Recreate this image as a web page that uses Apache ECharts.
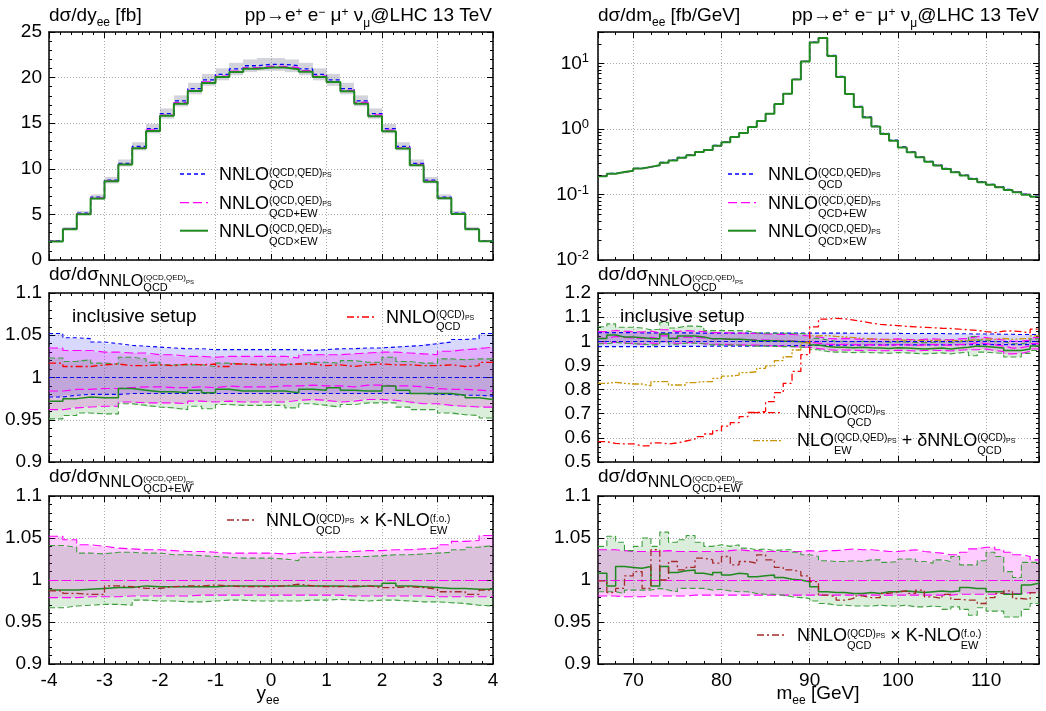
<!DOCTYPE html>
<html><head><meta charset="utf-8">
<script src="https://cdn.jsdelivr.net/npm/echarts@6/dist/echarts.min.js"></script>
<style>html,body{margin:0;padding:0;background:#fff}#c{width:1046px;height:711px}</style>
</head><body><div id="c"></div>
<script>
// ---------------- data ----------------
const yEdges = [-4,-3.75,-3.5,-3.25,-3,-2.75,-2.5,-2.25,-2,-1.75,-1.5,-1.25,-1,-0.75,-0.5,-0.25,0,
  0.25,0.5,0.75,1,1.25,1.5,1.75,2,2.25,2.5,2.75,3,3.25,3.5,3.75,4];
const mEdges = [66,67,68,69,70,71,72,73,74,75,76,77,78,79,80,81,82,83,84,85,86,87,88,89,90,91,
  92,93,94,95,96,97,98,99,100,101,102,103,104,105,106,107,108,109,110,111,112,113,114,115,116];
const logMinorTicks = [0.02,0.03,0.04,0.05,0.06,0.07,0.08,0.09,0.2,0.3,0.4,0.5,0.6,0.7,0.8,0.9,2,3,4,5,6,7,8,9,20];

// top-left: dsigma/dy_ee [fb]
const topL_qcd = [2.10,3.45,5.15,6.90,8.75,10.60,12.45,14.40,16.05,17.45,18.80,19.75,20.35,20.95,21.30,21.45,
  21.45,21.30,20.95,20.35,19.75,18.80,17.45,16.05,14.40,12.45,10.60,8.75,6.90,5.15,3.45,2.10];
const topL_ew = [2.08,3.41,5.09,6.82,8.66,10.49,12.33,14.26,15.87,17.26,18.60,19.54,20.15,20.72,21.08,21.22,
  21.24,21.08,20.75,20.15,19.55,18.60,17.28,15.90,14.25,12.32,10.48,8.64,6.81,5.08,3.41,2.08];
const topL_x = [2.04,3.36,5.03,6.73,8.63,10.46,12.25,14.15,15.82,17.14,18.52,19.40,20.06,20.61,20.96,21.11,
  21.11,20.92,20.65,20.06,19.51,18.51,17.14,15.76,14.13,12.22,10.40,8.58,6.76,5.04,3.37,2.05];
const topL_hi = [2.20,3.62,5.38,7.19,9.10,11.02,12.92,14.92,16.62,18.05,19.43,20.40,21.02,21.62,21.99,22.15,
  22.15,21.99,21.62,21.02,20.40,19.43,18.05,16.62,14.92,12.92,11.02,9.10,7.19,5.38,3.62,2.20];
const topL_lo = [2.00,3.30,4.93,6.60,8.40,10.25,12.03,13.88,15.50,16.85,18.17,19.10,19.70,20.26,20.60,20.74,
  20.74,20.60,20.26,19.70,19.10,18.17,16.85,15.50,13.88,12.03,10.25,8.40,6.60,4.93,3.30,2.00];

// middle-left: ratio to NNLO QCD
const midL_blueU = [1.052,1.047,1.046,1.042,1.040,1.038,1.037,1.036,1.035,1.034,1.034,1.033,1.033,1.033,1.033,1.033,
  1.033,1.033,1.032,1.033,1.034,1.034,1.035,1.035,1.036,1.037,1.038,1.040,1.042,1.045,1.046,1.052];
const midL_blueL = [0.977,0.979,0.980,0.980,0.980,0.981,0.981,0.981,0.981,0.981,0.981,0.981,0.981,0.981,0.981,0.981,
  0.981,0.981,0.981,0.981,0.981,0.981,0.981,0.981,0.981,0.981,0.981,0.980,0.980,0.979,0.979,0.978];
const midL_magU = [1.035,1.032,1.032,1.030,1.030,1.029,1.029,1.027,1.027,1.025,1.025,1.024,1.025,1.025,1.025,1.025,
  1.025,1.023,1.027,1.027,1.027,1.028,1.029,1.030,1.030,1.029,1.028,1.027,1.031,1.033,1.034,1.036];
const midL_magC = [0.984,0.986,0.986,0.987,0.987,0.988,0.989,0.989,0.988,0.988,0.989,0.988,0.990,0.989,0.989,0.989,
  0.990,0.990,0.991,0.990,0.990,0.989,0.991,0.991,0.990,0.990,0.989,0.987,0.986,0.986,0.985,0.984];
const midL_magL = [0.962,0.964,0.965,0.966,0.966,0.971,0.970,0.970,0.970,0.969,0.972,0.971,0.972,0.971,0.971,0.971,
  0.971,0.973,0.974,0.973,0.971,0.972,0.974,0.974,0.973,0.971,0.969,0.969,0.967,0.966,0.965,0.965];
const midL_grnU = [1.023,1.019,1.021,1.017,1.016,1.024,1.022,1.018,1.015,1.015,1.015,1.013,1.017,1.016,1.016,1.016,
  1.016,1.016,1.018,1.018,1.017,1.020,1.018,1.018,1.024,1.019,1.017,1.017,1.022,1.021,1.022,1.022];
const midL_grnC = [0.972,0.975,0.977,0.976,0.976,0.987,0.985,0.983,0.983,0.982,0.985,0.982,0.986,0.984,0.984,0.984,
  0.984,0.982,0.986,0.985,0.988,0.985,0.984,0.984,0.990,0.985,0.981,0.981,0.981,0.979,0.976,0.974];
const midL_grnL = [0.951,0.955,0.958,0.957,0.957,0.969,0.967,0.965,0.964,0.962,0.966,0.963,0.968,0.967,0.967,0.967,
  0.967,0.964,0.969,0.967,0.965,0.968,0.970,0.970,0.970,0.965,0.962,0.962,0.958,0.956,0.955,0.952];
const midL_red = [1.017,1.013,1.013,1.015,1.016,1.014,1.014,1.015,1.014,1.016,1.015,1.016,1.013,1.016,1.015,1.015,
  1.015,1.016,1.016,1.014,1.015,1.013,1.015,1.016,1.015,1.015,1.014,1.014,1.015,1.013,1.014,1.018];

// bottom-left: ratio to NNLO QCD+EW
const botL_magU = [1.052,1.048,1.042,1.040,1.038,1.037,1.036,1.036,1.035,1.034,1.034,1.033,1.032,1.032,1.032,1.032,
  1.031,1.032,1.033,1.033,1.034,1.034,1.035,1.035,1.036,1.036,1.037,1.038,1.042,1.046,1.047,1.053];
const botL_magL = [0.979,0.979,0.980,0.980,0.980,0.981,0.981,0.981,0.981,0.981,0.982,0.982,0.982,0.982,0.982,0.982,
  0.982,0.982,0.982,0.982,0.982,0.981,0.981,0.981,0.981,0.981,0.981,0.980,0.980,0.980,0.980,0.980];
const botL_grnU = [1.041,1.039,1.032,1.031,1.033,1.033,1.032,1.032,1.030,1.030,1.029,1.028,1.027,1.026,1.026,1.026,
  1.025,1.023,1.027,1.027,1.027,1.028,1.028,1.029,1.030,1.030,1.031,1.032,1.033,1.036,1.039,1.041];
const botL_grnC = [0.988,0.988,0.989,0.990,0.991,0.991,0.993,0.992,0.992,0.992,0.992,0.992,0.993,0.993,0.993,0.993,
  0.993,0.993,0.993,0.993,0.993,0.992,0.993,0.993,0.996,0.993,0.992,0.991,0.990,0.990,0.989,0.989];
const botL_grnL = [0.967,0.969,0.970,0.971,0.971,0.970,0.976,0.975,0.975,0.974,0.974,0.975,0.976,0.976,0.975,0.975,
  0.975,0.975,0.976,0.976,0.977,0.976,0.975,0.976,0.976,0.975,0.974,0.974,0.973,0.972,0.970,0.969];
const botL_red = [0.987,0.984,0.983,0.983,0.993,0.992,0.990,0.990,0.992,0.993,0.993,0.994,0.993,0.992,0.992,0.992,
  0.993,0.995,0.993,0.992,0.992,0.993,0.993,0.991,0.991,0.992,0.991,0.989,0.986,0.986,0.983,0.988];

// top-right: dsigma/dm_ee [fb/GeV]
const topR_qcd = [0.192,0.209,0.220,0.230,0.249,0.264,0.280,0.307,0.333,0.366,
  0.400,0.446,0.480,0.557,0.630,0.760,0.870,1.07,1.32,1.71,
  2.40,3.45,5.70,10.7,21.0,24.6,13.2,6.30,3.45,2.20,
  1.52,1.10,0.850,0.670,0.530,0.446,0.375,0.320,0.280,0.249,
  0.221,0.197,0.175,0.156,0.142,0.131,0.119,0.110,0.101,0.094];
const topR_ew = [0.191,0.207,0.218,0.228,0.247,0.262,0.278,0.304,0.330,0.363,
  0.397,0.442,0.477,0.553,0.626,0.755,0.866,1.065,1.315,1.705,
  2.39,3.44,5.69,10.7,20.9,24.3,13.0,6.20,3.40,2.17,
  1.50,1.085,0.838,0.661,0.523,0.440,0.370,0.316,0.276,0.246,
  0.218,0.195,0.173,0.155,0.141,0.130,0.118,0.109,0.100,0.093];
const topR_x = [0.190,0.207,0.219,0.229,0.248,0.263,0.279,0.305,0.330,0.363,
  0.397,0.442,0.476,0.552,0.625,0.754,0.865,1.063,1.312,1.703,
  2.39,3.44,5.68,10.65,20.8,24.2,12.95,6.18,3.39,2.16,
  1.49,1.082,0.835,0.659,0.521,0.439,0.369,0.315,0.275,0.245,
  0.217,0.194,0.172,0.154,0.140,0.129,0.117,0.108,0.099,0.092];

// middle-right: ratio to NNLO QCD
const midR_blueU = [1.036,1.036,1.036,1.036,1.035,1.035,1.035,1.035,1.035,1.035,
  1.034,1.034,1.034,1.034,1.034,1.034,1.034,1.034,1.034,1.034,
  1.034,1.034,1.034,1.034,1.034,1.034,1.034,1.034,1.033,1.033,
  1.033,1.033,1.033,1.033,1.032,1.032,1.032,1.032,1.032,1.031,
  1.031,1.031,1.030,1.030,1.030,1.029,1.029,1.028,1.028,1.028];
const midR_blueL = [0.978,0.978,0.978,0.978,0.978,0.978,0.978,0.979,0.979,0.979,
  0.979,0.979,0.980,0.980,0.980,0.980,0.980,0.981,0.981,0.981,
  0.981,0.982,0.982,0.982,0.983,0.983,0.984,0.984,0.984,0.984,
  0.985,0.985,0.985,0.985,0.985,0.985,0.985,0.985,0.985,0.985,
  0.986,0.986,0.986,0.986,0.986,0.986,0.986,0.986,0.986,0.986];
const midR_magU = [1.040,1.045,1.042,1.040,1.038,1.042,1.036,1.048,1.040,1.044,
  1.042,1.040,1.036,1.036,1.035,1.034,1.033,1.032,1.030,1.030,
  1.028,1.028,1.025,1.022,1.018,1.012,1.010,1.012,1.010,1.008,
  1.010,1.008,1.008,1.010,1.008,1.006,1.008,1.010,1.008,1.006,
  1.010,1.012,1.020,1.015,1.010,1.005,1.000,1.000,1.005,1.015];
const midR_magC = [1.012,1.020,1.016,1.014,1.012,1.016,1.010,1.022,1.013,1.018,
  1.016,1.014,1.010,1.010,1.009,1.008,1.007,1.006,1.005,1.004,
  1.003,1.002,1.000,0.998,0.992,0.988,0.986,0.987,0.986,0.985,
  0.986,0.984,0.984,0.986,0.985,0.983,0.985,0.986,0.985,0.983,
  0.986,0.988,0.994,0.990,0.985,0.980,0.972,0.974,0.980,0.990];
const midR_magL = [0.992,0.996,0.993,0.990,0.988,0.994,0.988,0.998,0.990,0.995,
  0.993,0.990,0.988,0.988,0.986,0.985,0.984,0.984,0.982,0.980,
  0.980,0.978,0.976,0.975,0.970,0.965,0.963,0.964,0.963,0.962,
  0.963,0.961,0.961,0.963,0.962,0.960,0.962,0.963,0.962,0.960,
  0.963,0.965,0.965,0.968,0.962,0.957,0.948,0.950,0.958,0.968];
const midR_grnU = [1.060,1.072,1.058,1.058,1.055,1.048,1.050,1.078,1.055,1.063,
  1.063,1.060,1.044,1.044,1.044,1.044,1.042,1.035,1.034,1.034,
  1.033,1.033,1.032,1.030,1.012,1.005,1.000,1.000,0.998,1.000,
  0.998,0.998,0.996,0.998,0.997,0.995,0.994,0.996,0.998,0.995,
  0.998,1.002,1.020,1.005,1.000,0.998,0.990,0.990,0.995,1.010];
const midR_grnC = [1.012,1.026,1.018,1.018,1.015,1.012,1.010,1.030,1.012,1.022,
  1.022,1.018,1.010,1.010,1.008,1.008,1.006,1.003,1.002,1.002,
  1.000,1.000,0.998,0.995,0.985,0.978,0.975,0.975,0.973,0.975,
  0.973,0.972,0.970,0.973,0.972,0.970,0.968,0.970,0.972,0.968,
  0.972,0.975,0.980,0.978,0.975,0.972,0.962,0.962,0.968,0.980];
const midR_grnL = [0.990,0.995,0.992,0.990,0.988,0.985,0.985,0.998,0.988,0.992,
  0.992,0.990,0.985,0.985,0.984,0.984,0.982,0.980,0.980,0.979,
  0.978,0.978,0.976,0.974,0.965,0.958,0.955,0.955,0.953,0.955,
  0.953,0.952,0.950,0.953,0.952,0.950,0.948,0.950,0.952,0.948,
  0.952,0.955,0.940,0.955,0.952,0.950,0.935,0.935,0.950,0.962];
const midR_red = [0.584,0.577,0.575,0.575,0.567,0.567,0.579,0.575,0.579,0.587,
  0.595,0.605,0.616,0.630,0.649,0.663,0.688,0.705,0.710,0.750,
  0.787,0.826,0.875,0.945,1.060,1.092,1.095,1.093,1.088,1.082,
  1.075,1.070,1.067,1.065,1.062,1.060,1.058,1.056,1.054,1.053,
  1.050,1.048,1.045,1.040,1.036,1.042,1.043,1.040,1.035,1.050];
const midR_gold = [0.826,0.830,0.826,0.823,0.823,0.815,0.833,0.833,0.819,0.819,
  0.829,0.833,0.833,0.846,0.856,0.860,0.870,0.874,0.888,0.898,
  0.920,0.936,0.964,0.994,1.022,1.024,1.020,1.018,1.015,1.012,
  1.010,1.008,1.006,1.005,1.005,1.004,1.004,1.003,1.005,1.004,
  1.003,1.004,1.006,1.010,1.008,1.012,1.008,1.010,1.012,1.022];

// bottom-right: ratio to NNLO QCD+EW
const botR_magU = [1.036,1.036,1.035,1.034,1.034,1.034,1.034,1.035,1.034,1.034,
  1.034,1.034,1.034,1.034,1.035,1.036,1.035,1.035,1.034,1.034,
  1.034,1.034,1.034,1.035,1.034,1.035,1.035,1.036,1.037,1.036,
  1.036,1.035,1.034,1.034,1.035,1.036,1.034,1.033,1.032,1.030,
  1.030,1.033,1.037,1.039,1.039,1.036,1.033,1.030,1.028,1.024];
const botR_magL = [0.981,0.981,0.980,0.980,0.980,0.981,0.981,0.981,0.981,0.981,
  0.982,0.982,0.982,0.982,0.982,0.982,0.982,0.982,0.982,0.982,
  0.982,0.982,0.982,0.982,0.982,0.982,0.982,0.982,0.982,0.982,
  0.982,0.982,0.982,0.982,0.982,0.982,0.982,0.982,0.982,0.982,
  0.983,0.983,0.983,0.983,0.983,0.984,0.984,0.984,0.985,0.985];
const botR_grnU = [1.040,1.052,1.045,1.035,1.040,1.050,1.040,1.057,1.045,1.048,
  1.053,1.045,1.040,1.042,1.040,1.042,1.038,1.036,1.037,1.035,
  1.036,1.036,1.033,1.030,1.028,1.023,1.022,1.022,1.023,1.022,
  1.024,1.024,1.021,1.022,1.025,1.025,1.022,1.020,1.024,1.022,
  1.028,1.018,1.018,1.023,1.033,1.028,1.010,1.003,1.021,1.021];
const botR_grnC = [1.008,0.993,1.016,1.015,1.014,1.016,0.993,1.016,1.009,1.011,
  1.012,1.008,1.006,1.009,1.006,1.008,1.007,1.004,1.005,1.006,
  1.003,1.001,1.000,0.998,0.992,0.986,0.985,0.985,0.984,0.984,
  0.985,0.984,0.986,0.986,0.987,0.986,0.985,0.986,0.987,0.986,
  0.987,0.991,0.990,0.990,0.986,0.986,0.983,0.983,0.994,0.996];
const botR_grnL = [0.986,0.986,0.984,0.988,0.988,0.988,0.990,0.988,0.986,0.990,
  0.990,0.990,0.988,0.989,0.987,0.986,0.986,0.984,0.983,0.983,
  0.982,0.980,0.979,0.978,0.975,0.972,0.970,0.970,0.969,0.969,
  0.969,0.970,0.969,0.969,0.970,0.968,0.968,0.969,0.968,0.965,
  0.968,0.965,0.958,0.967,0.963,0.963,0.956,0.956,0.965,0.972];
const botR_red = [0.999,0.985,0.990,1.005,1.010,0.990,1.036,1.000,1.022,1.012,
  1.015,1.026,1.024,1.020,1.028,1.018,1.022,1.020,1.030,1.024,
  1.015,1.012,1.010,1.005,0.998,0.982,0.980,0.976,0.978,0.981,
  0.979,0.979,0.984,0.986,0.987,0.984,0.988,0.980,0.978,0.983,
  0.977,0.976,0.976,0.972,0.979,0.984,0.987,0.978,0.977,0.985];

// ---------------- styles ----------------
const FF = '"Liberation Sans", Arial, Helvetica, sans-serif';
const BLUE='#0000ff', MAG='#ff00ff', GRN='#1f8a1f', GRNE='#3f9f3f', RED='#ff0000', GOLD='#c8960a', DRED='#a52a2a';
const DB=[4,3], DM=[9,4], DG=[6,3], DR=[7,3,2,3], DGO=[7,2,2,2,2,2];
const FB='rgba(0,0,255,0.15)', FM='rgba(255,0,255,0.2)', FG='rgba(0,128,0,0.14)', FGR='rgba(110,110,140,0.30)';

const grids = [
  {left:49, top:32, width:444, height:228},
  {left:49, top:293, width:444, height:169},
  {left:49, top:496, width:444, height:168},
  {left:598, top:32, width:441, height:228},
  {left:598, top:293, width:441, height:169},
  {left:598, top:496, width:441, height:168}
].map(g => Object.assign({outerBoundsMode:'none', containLabel:false}, g));

const AL = {show:true, onZero:false, lineStyle:{color:'#000', width:1.5}};
const TK = {show:true, inside:true, length:6, lineStyle:{color:'#000', width:1}};
const TKm = {show:true, inside:true, length:3, lineStyle:{color:'#000', width:1}};
const MT = {show:true, splitNumber:5, length:3, lineStyle:{color:'#000', width:1}};
const SL = {show:true, lineStyle:{color:'#aaaaaa', width:1, type:[1,2]}};
const LBL = {show:true, color:'#000', fontSize:19, fontFamily:FF, margin:7, showMinLabel:true, showMaxLabel:true};
const NOL = {show:false};

const xAxes=[], yAxes=[], mainX=[], mainY=[];
grids.forEach((g, gi) => {
  const right = gi >= 3, bottomRow = (gi === 2 || gi === 5);
  mainX[gi] = xAxes.length;
  if (!right) {
    xAxes.push({type:'value', gridIndex:gi, position:'bottom', min:-4, max:4, interval:1,
      axisLine:AL, axisTick:TK, minorTick:MT, splitLine:SL, axisLabel: bottomRow ? LBL : NOL});
    xAxes.push({type:'value', gridIndex:gi, position:'top', min:-4, max:4, interval:1,
      axisLine:AL, axisTick:TK, minorTick:MT, splitLine:{show:false}, axisLabel:NOL});
  } else {
    xAxes.push({type:'value', gridIndex:gi, position:'bottom', min:66, max:116, splitNumber:5,
      axisLine:AL, axisTick:TK, splitLine:SL,
      axisLabel: bottomRow ? Object.assign({}, LBL, {formatter: v => (v % 10 === 0 ? String(v) : '')}) : NOL});
    xAxes.push({type:'value', gridIndex:gi, position:'bottom', min:66, max:116, interval:2,
      axisLine:{show:false}, axisTick:TKm, splitLine:{show:false}, axisLabel:NOL});
    xAxes.push({type:'value', gridIndex:gi, position:'top', min:66, max:116, splitNumber:5,
      axisLine:AL, axisTick:TK, splitLine:{show:false}, axisLabel:NOL});
    xAxes.push({type:'value', gridIndex:gi, position:'top', min:66, max:116, interval:2,
      axisLine:{show:false}, axisTick:TKm, splitLine:{show:false}, axisLabel:NOL});
  }
  let yc;
  if (gi === 0) yc = {type:'value', min:0, max:25, interval:5};
  else if (gi === 3) yc = {type:'log', min:0.01, max:30, logBase:10};
  else if (gi === 4) yc = {type:'value', min:0.5, max:1.2, interval:0.1};
  else yc = {type:'value', min:0.9, max:1.1, interval:0.05};
  const isLog = gi === 3;
  mainY[gi] = yAxes.length;
  const ylab = isLog ? Object.assign({}, LBL, {
      margin:9,
      formatter: v => { const l = Math.log10(v), e = Math.round(l); return Math.abs(l - e) > 1e-6 ? '' : '{a|10}{b|' + e + '}'; },
      rich: {a:{fontSize:19, fontFamily:FF, color:'#000', lineHeight:22}, b:{fontSize:13, fontFamily:FF, color:'#000', verticalAlign:'top', lineHeight:13}}
    }) : LBL;
  yAxes.push(Object.assign({gridIndex:gi, position:'left', axisLine:AL, axisTick:TK,
    minorTick: isLog ? {show:false} : MT, splitLine:SL, axisLabel: ylab}, yc));
  yAxes.push(Object.assign({gridIndex:gi, position:'right', axisLine:AL, axisTick:TK,
    minorTick: isLog ? {show:false} : MT, splitLine:{show:false}, axisLabel:NOL}, yc));
});

// ---------------- series helpers ----------------
function hist(edges, vals) {
  const d = vals.map((v, i) => [edges[i], v]);
  d.push([edges[vals.length], vals[vals.length - 1]]);
  return d;
}
function stepLine(gi, edges, vals, color, width, dash, z) {
  return {type:'line', xAxisIndex:mainX[gi], yAxisIndex:mainY[gi], data:hist(edges, vals), step:'end',
    symbol:'none', showSymbol:false, silent:true, animation:false, z: z || 3,
    lineStyle:{color:color, width:width, type: dash || 'solid'}};
}
function band(gi, edges, lo, hi, fill) {
  return {type:'custom', xAxisIndex:mainX[gi], yAxisIndex:mainY[gi], silent:true, animation:false, z:1, clip:true,
    data: lo.map((l, i) => [edges[i], edges[i + 1], l, hi[i]]),
    encode:{x:[0, 1], y:[2, 3]},
    renderItem: (p, api) => {
      const a = api.coord([api.value(0), api.value(3)]);
      const b = api.coord([api.value(1), api.value(2)]);
      const x0 = Math.round(a[0]), x1 = Math.round(b[0]);
      return {type:'rect', shape:{x:x0, y:a[1], width:x1 - x0, height:b[1] - a[1]}, style:{fill:fill}};
    }};
}
function refLine(gi, color, dash) {
  return {type:'line', xAxisIndex:mainX[gi], yAxisIndex:mainY[gi], data:[], z:3,
    markLine:{silent:true, symbol:'none', animation:false, label:{show:false},
      lineStyle:{color:color, width:1.2, type:dash}, data:[{yAxis:1}]}};
}

const series = [];
// top-left
series.push(band(0, yEdges, topL_lo, topL_hi, FGR));
series.push(stepLine(0, yEdges, topL_qcd, BLUE, 1.3, DB, 3));
series.push(stepLine(0, yEdges, topL_ew, MAG, 1.3, DM, 4));
series.push(stepLine(0, yEdges, topL_x, GRN, 2, 'solid', 5));
// middle-left
series.push(band(1, yEdges, midL_blueL, midL_blueU, FB));
series.push(band(1, yEdges, midL_magL, midL_magU, FM));
series.push(band(1, yEdges, midL_grnL, midL_grnU, FG));
series.push(stepLine(1, yEdges, midL_blueU, BLUE, 1.1, DB));
series.push(stepLine(1, yEdges, midL_blueL, BLUE, 1.1, DB));
series.push(refLine(1, BLUE, DB));
series.push(stepLine(1, yEdges, midL_magU, MAG, 1.1, DM));
series.push(stepLine(1, yEdges, midL_magL, MAG, 1.1, DM));
series.push(stepLine(1, yEdges, midL_magC, MAG, 1.2, DM));
series.push(stepLine(1, yEdges, midL_grnU, GRNE, 1.1, DG));
series.push(stepLine(1, yEdges, midL_grnL, GRNE, 1.1, DG));
series.push(stepLine(1, yEdges, midL_grnC, GRN, 1.5, 'solid', 4));
series.push(stepLine(1, yEdges, midL_red, RED, 1.3, DR, 5));
// bottom-left
series.push(band(2, yEdges, botL_magL, botL_magU, FM));
series.push(band(2, yEdges, botL_grnL, botL_grnU, FG));
series.push(stepLine(2, yEdges, botL_magU, MAG, 1.1, DM));
series.push(stepLine(2, yEdges, botL_magL, MAG, 1.1, DM));
series.push(refLine(2, MAG, DM));
series.push(stepLine(2, yEdges, botL_grnU, GRNE, 1.1, DG));
series.push(stepLine(2, yEdges, botL_grnL, GRNE, 1.1, DG));
series.push(stepLine(2, yEdges, botL_grnC, GRN, 1.5, 'solid', 4));
series.push(stepLine(2, yEdges, botL_red, DRED, 1.3, DR, 5));
// top-right
series.push(stepLine(3, mEdges, topR_qcd, BLUE, 1.3, DB, 3));
series.push(stepLine(3, mEdges, topR_ew, MAG, 1.3, DM, 4));
series.push(stepLine(3, mEdges, topR_x, GRN, 2, 'solid', 5));
series.push({type:'custom', xAxisIndex:mainX[3], yAxisIndex:mainY[3], silent:true, animation:false, clip:false, z:6,
  data: logMinorTicks.map(v => [66, v]), encode:{x:0, y:1},
  renderItem: (p, api) => {
    const y = Math.round(api.coord([66, api.value(1)])[1]) + 0.5;
    const cs = p.coordSys;
    return {type:'group', children:[
      {type:'line', shape:{x1:cs.x, y1:y, x2:cs.x + 3.5, y2:y}, style:{stroke:'#000', lineWidth:1}},
      {type:'line', shape:{x1:cs.x + cs.width, y1:y, x2:cs.x + cs.width - 3.5, y2:y}, style:{stroke:'#000', lineWidth:1}}
    ]};
  }});
// middle-right
series.push(band(4, mEdges, midR_blueL, midR_blueU, FB));
series.push(band(4, mEdges, midR_magL, midR_magU, FM));
series.push(band(4, mEdges, midR_grnL, midR_grnU, FG));
series.push(stepLine(4, mEdges, midR_blueU, BLUE, 1.1, DB));
series.push(stepLine(4, mEdges, midR_blueL, BLUE, 1.1, DB));
series.push(refLine(4, BLUE, DB));
series.push(stepLine(4, mEdges, midR_magU, MAG, 1.1, DM));
series.push(stepLine(4, mEdges, midR_magL, MAG, 1.1, DM));
series.push(stepLine(4, mEdges, midR_magC, MAG, 1.2, DM));
series.push(stepLine(4, mEdges, midR_grnU, GRNE, 1.1, DG));
series.push(stepLine(4, mEdges, midR_grnL, GRNE, 1.1, DG));
series.push(stepLine(4, mEdges, midR_grnC, GRN, 1.5, 'solid', 4));
series.push(stepLine(4, mEdges, midR_gold, GOLD, 1.3, DGO, 5));
series.push(stepLine(4, mEdges, midR_red, RED, 1.3, DR, 5));
// bottom-right
series.push(band(5, mEdges, botR_magL, botR_magU, FM));
series.push(band(5, mEdges, botR_grnL, botR_grnU, FG));
series.push(stepLine(5, mEdges, botR_magU, MAG, 1.1, DM));
series.push(stepLine(5, mEdges, botR_magL, MAG, 1.1, DM));
series.push(refLine(5, MAG, DM));
series.push(stepLine(5, mEdges, botR_grnU, GRNE, 1.1, DG));
series.push(stepLine(5, mEdges, botR_grnL, GRNE, 1.1, DG));
series.push(stepLine(5, mEdges, botR_grnC, GRN, 1.5, 'solid', 4));
series.push(stepLine(5, mEdges, botR_red, DRED, 1.3, DR, 5));

// ---------------- text with sub/superscripts ----------------
const mctx = document.createElement('canvas').getContext('2d');
function tw(t, s) { mctx.font = s + 'px ' + FF; return mctx.measureText(t).width; }
// token: [text, size, centerOffsetFromBaseline, mode]  mode 's' = set mark, 'u' = under mark
function mt(x, base, tokens, align, color) {
  let cur = 0, mark = 0, maxEnd = 0; const out = [];
  tokens.forEach(tk => {
    const [t, s, cy, m] = tk;
    const px = (m === 'u') ? mark : cur;
    if (m === 's') mark = cur;
    const w = tw(t, s);
    out.push({t, s, cy, px});
    const end = px + w;
    cur = (m === 'u') ? Math.max(cur, end) : end;
    maxEnd = Math.max(maxEnd, end);
  });
  const x0 = align === 'right' ? x - maxEnd : (align === 'center' ? x - maxEnd / 2 : x);
  return out.map(o => ({type:'text', silent:true, z:100, x: x0 + o.px, y: base + o.cy,
    style:{text:o.t, font: o.s + 'px ' + FF, fill: color || '#000', align:'left', verticalAlign:'middle',
      textAlign:'left', textVerticalAlign:'middle'}}));
}
function sample(x1, x2, y, color, dash, w) {
  return {type:'line', silent:true, z:100, shape:{x1:x1, y1:y, x2:x2, y2:y},
    style:{stroke:color, lineWidth: w || 1.3, lineDash: dash || null}};
}
const M19 = -6.6, M18 = -6.3;
function legTok(main, sup, sub) {
  return [[main, 18, M18], [sup, 10, -8.7, 's'], ['PS', 7, -6.2], [sub, 11, 3.3, 'u']];
}
function ratioTitle(x, base, sub) {
  return mt(x, base, [['dσ/dσ', 19, M19], ['NNLO', 16, -0.5], ['(QCD,QED)', 8, -3.9, 's'], ['PS', 6, 0.2], [sub, 11, 6.4, 'u']]);
}
const procTok = [['pp→e', 19, M19], ['+', 12, -9.5], [' e', 19, M19], ['−', 12, -9.5], [' μ', 19, M19], ['+', 12, -9.5],
  [' ν', 19, M19], ['μ', 12, 1.5], ['@LHC 13 TeV', 19, M19]];

let G = [];
// headers
G = G.concat(mt(49, 22, [['dσ/dy', 19, M19], ['ee', 12, 0.8], [' [fb]', 19, M19]]));
G = G.concat(mt(492, 22, procTok, 'right'));
G = G.concat(mt(598, 22, [['dσ/dm', 19, M19], ['ee', 12, 0.8], [' [fb/GeV]', 19, M19]]));
G = G.concat(mt(1039, 22, procTok, 'right'));
// ratio titles
G = G.concat(ratioTitle(49, 281.7, 'QCD'));
G = G.concat(ratioTitle(598, 281.7, 'QCD'));
G = G.concat(ratioTitle(49, 483, 'QCD+EW'));
G = G.concat(ratioTitle(598, 483, 'QCD+EW'));
// axis names
G = G.concat(mt(268, 700, [['y', 19, M19], ['ee', 12, 0.8]], 'center'));
G = G.concat(mt(818, 700, [['m', 19, M19], ['ee', 12, 0.8], [' [GeV]', 19, M19]], 'center'));
// top legends
[[49 + 131, 219], [598 + 130, 768]].forEach(([lx, tx]) => {
  G.push(sample(lx, lx + 28, 174, BLUE, DB));
  G.push(sample(lx, lx + 28, 202.7, MAG, DM));
  G.push(sample(lx, lx + 28, 230.7, GRN, null, 2));
  G = G.concat(mt(tx, 181.6, legTok('NNLO', '(QCD,QED)', 'QCD')));
  G = G.concat(mt(tx, 210.3, legTok('NNLO', '(QCD,QED)', 'QCD+EW')));
  G = G.concat(mt(tx, 238.3, legTok('NNLO', '(QCD,QED)', 'QCD×EW')));
});
// middle-left
G = G.concat(mt(72, 323.3, [['inclusive setup', 19, M19]]));
G.push(sample(347, 375, 317, RED, DR));
G = G.concat(mt(386, 324, legTok('NNLO', '(QCD)', 'QCD')));
// middle-right
G = G.concat(mt(620, 323.3, [['inclusive setup', 19, M19]]));
G.push(sample(753, 783, 412.7, RED, DR));
G = G.concat(mt(797, 419.3, legTok('NNLO', '(QCD)', 'QCD')));
G.push(sample(753, 783, 440.7, GOLD, DGO));
G = G.concat(mt(797, 447.3, [['NLO', 18, M18], ['(QCD,QED)', 10, -8.7, 's'], ['PS', 7, -6.2], ['EW', 11, 3.3, 'u'],
  [' + δNNLO', 18, M18], ['(QCD)', 10, -8.7, 's'], ['PS', 7, -6.2], ['QCD', 11, 3.3, 'u']]));
// bottom legends
const kTok = legTok('NNLO', '(QCD)', 'QCD').concat([[' × K-NLO', 18, M18], ['(f.o.)', 10, -8.7, 's'], ['EW', 11, 3.3, 'u']]);
G.push(sample(227, 255, 520, DRED, DR));
G = G.concat(mt(266, 527.7, kTok));
G.push(sample(757, 785, 635, DRED, DR));
G = G.concat(mt(797, 642.7, kTok));

const option = {
  animation:false,
  backgroundColor:'#fff',
  grid: grids,
  xAxis: xAxes,
  yAxis: yAxes,
  series: series,
  graphic: G
};
const chart = echarts.init(document.getElementById('c'), null, {renderer:'canvas'});
chart.setOption(option);
</script></body></html>
